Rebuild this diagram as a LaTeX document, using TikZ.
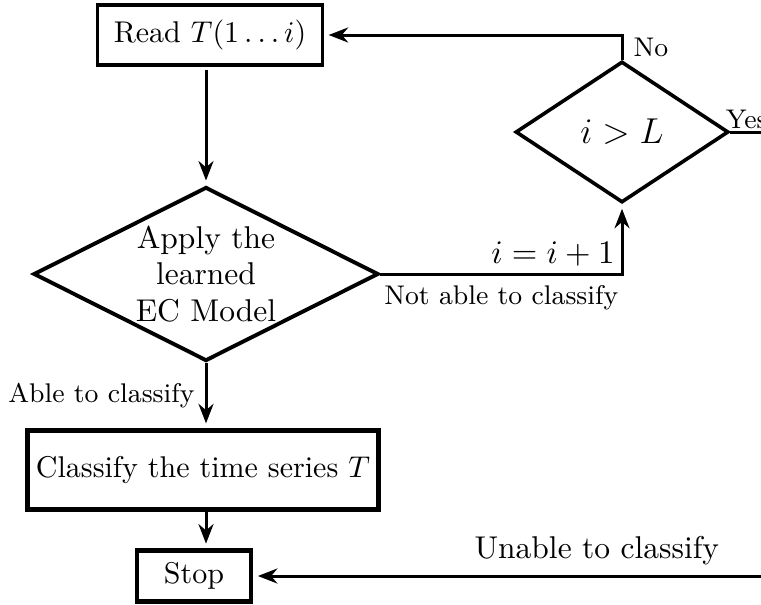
\documentclass[tikz,border=0pt]{standalone}
\usetikzlibrary{shapes.geometric,arrows.meta}
\tikzset{
    block/.style={draw, line width=1.3pt, inner sep=0pt},
    decision/.style={draw, diamond, line width=1.2pt, inner sep=0pt},
    conn/.style={line width=1pt},
    arrow/.style={conn, -{Stealth[length=6.5pt,width=5pt]}, shorten >=1.5pt},
    biglabel/.style={font=\fontsize{10.5}{12.2}\selectfont},
}

\begin{document}
\begin{tikzpicture}[x=0.3333pt, y=-0.3333pt]
    \useasboundingbox (0,0) rectangle (761,604);
    \clip (0,0) rectangle (761,604);
    % boxes and decisions
    \node[block, line width=1.1pt, minimum width=75pt, minimum height=20pt] (read) at (210,35) {Read $T(1\ldots i)$};
    \node[decision, line width=1.3pt, minimum width=115pt, minimum height=58pt,
          label={[align=center, biglabel]center:Apply the\\learned\\EC Model}] (apply) at (206,274) {};
    \node[decision, minimum width=71pt, minimum height=47pt, font=\fontsize{11.5}{13}\selectfont] (test) at (622,132) {$i>L$};
    \node[block, line width=1.6pt, minimum width=117pt, minimum height=26.5pt] (classify) at (203,470) {Classify the time series $T$};
    \node[block, line width=1.6pt, minimum width=38pt, minimum height=17pt] (stop) at (194,576) {Stop};
    \coordinate (turn) at (test.south |- apply.east);
    \coordinate (up) at (test.north |- read.east);
    \coordinate (yes) at (test.east -| 790,0);
    \coordinate (unable) at (stop.east -| 790,0);
    % connectors
    \draw[arrow, shorten <=1pt] (read.south -| apply.north) -- (apply.north);
    \draw[arrow] (apply.south) -- node[left, font=\small] {Able to classify} (apply.south |- classify.north);
    \draw[arrow] (classify.south -| apply.south) -- (stop.north -| apply.south);
    \draw[arrow] (apply.east) -- node[below, font=\small] {Not able to classify} (turn)
        node[above left, inner sep=2pt, biglabel] {$i=i+1$} -- (test.south);
    \draw[arrow] (test.north) -- node[right, font=\small] {No} (up) -- (read.east);
    \draw[conn] (test.east) -- (yes) node[pos=0, above right, inner sep=0.5pt, xshift=-2.5pt, font=\small] {Yes};
    \draw[arrow] (unable) -- node[above, pos=0.36, biglabel] {Unable to classify} (stop.east);
\end{tikzpicture}
\end{document}
